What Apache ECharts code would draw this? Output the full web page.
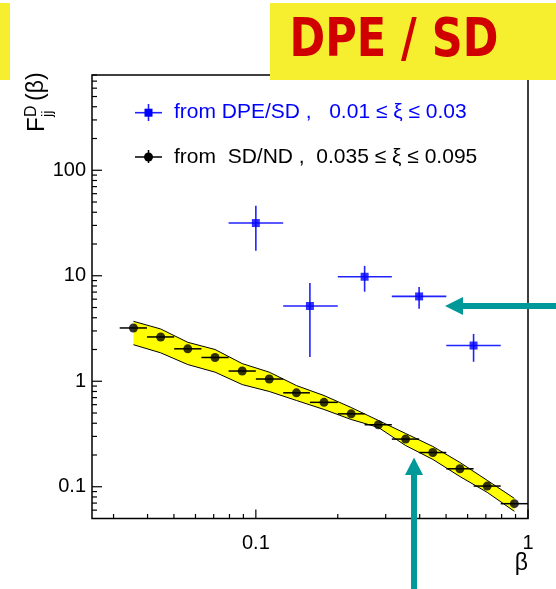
<!DOCTYPE html>
<html>
<head>
<meta charset="utf-8">
<script src="https://cdn.jsdelivr.net/npm/echarts@6/dist/echarts.min.js"></script>
<style>
  html, body { margin: 0; padding: 0; background: #fff; }
  #c { width: 556px; height: 589px; }
</style>
</head>
<body>
<div id="c"></div>
<script>
// SD/ND measurement: beta bin centres, bin edges and F values
const sdBeta   = [0.0355, 0.0447, 0.0562, 0.0708, 0.0891, 0.112, 0.141, 0.178, 0.224, 0.282, 0.355, 0.447, 0.562, 0.708, 0.891];
const sdBetaLo = [0.0316, 0.0398, 0.0501, 0.0631, 0.0794, 0.1, 0.126, 0.158, 0.2, 0.251, 0.316, 0.398, 0.501, 0.631, 0.794];
const sdBetaHi = [0.0398, 0.0501, 0.0631, 0.0794, 0.1, 0.126, 0.158, 0.2, 0.251, 0.316, 0.398, 0.501, 0.631, 0.794, 1.0];
const sdF      = [3.20, 2.63, 2.03, 1.68, 1.25, 1.05, 0.777, 0.631, 0.491, 0.387, 0.283, 0.211, 0.148, 0.1015, 0.0691];
// uncertainty band around the SD/ND points
const bandUp   = [3.70, 3.13, 2.34, 2.00, 1.47, 1.22, 0.91, 0.732, 0.564, 0.425, 0.320, 0.241, 0.170, 0.115, 0.0776];
const bandLo   = [2.22, 1.86, 1.44, 1.22, 0.93, 0.80, 0.657, 0.540, 0.434, 0.365, 0.246, 0.1816, 0.125, 0.0885, 0.0585];

// DPE/SD measurement
const dpeBeta   = [0.1, 0.158, 0.251, 0.398, 0.631];
const dpeBetaLo = [0.0794, 0.126, 0.2, 0.316, 0.501];
const dpeBetaHi = [0.126, 0.2, 0.316, 0.501, 0.794];
const dpeF      = [31.6, 5.17, 9.79, 6.37, 2.18];
const dpeFHi    = [46.0, 8.54, 12.4, 7.82, 2.81];
const dpeFLo    = [17.3, 1.70, 7.06, 4.88, 1.53];

// axis ticks and labels
const xMajorTicks = [0.1, 1];
const xTickLabels = ['0.1', '1'];
const xMinorTicks = [0.03, 0.04, 0.05, 0.06, 0.07, 0.08, 0.09, 0.2, 0.3, 0.4, 0.5, 0.6, 0.7, 0.8, 0.9];
const yMajorTicks = [0.1, 1, 10, 100];
const yTickLabels = ['0.1', '1', '10', '100'];
const yMinorTicks = [0.06, 0.07, 0.08, 0.09, 0.2, 0.3, 0.4, 0.5, 0.6, 0.7, 0.8, 0.9,
                     2, 3, 4, 5, 6, 7, 8, 9, 20, 30, 40, 50, 60, 70, 80, 90,
                     200, 300, 400, 500, 600, 700, 800];

const X_MIN = 0.025, X_MAX = 1, Y_MIN = 0.05, Y_MAX = 800;
const FONT = '"Liberation Sans", Arial, Helvetica, sans-serif';
const BLUE = '#0000ff';
const TEAL = '#009999';

const chart = echarts.init(document.getElementById('c'), null, { renderer: 'canvas' });

function xTicks(values, len) {
  return {
    type: 'custom', silent: true, clip: false, z: 6,
    data: values.map(v => [v, Y_MIN]),
    renderItem: (params, api) => {
      const p = api.coord([api.value(0), api.value(1)]);
      return { type: 'line', shape: { x1: p[0], y1: p[1], x2: p[0], y2: p[1] - len },
               style: { stroke: '#000', lineWidth: 1.2 } };
    }
  };
}
function yTicks(values, len) {
  return {
    type: 'custom', silent: true, clip: false, z: 6,
    data: values.map(v => [X_MIN, v]),
    renderItem: (params, api) => {
      const p = api.coord([api.value(0), api.value(1)]);
      return { type: 'line', shape: { x1: p[0], y1: p[1], x2: p[0] + len, y2: p[1] },
               style: { stroke: '#000', lineWidth: 1.2 } };
    }
  };
}

const series = [
  // yellow uncertainty band with black outline
  {
    type: 'custom', silent: true, clip: false, z: 2,
    data: [[sdBeta[0], sdF[0]]],
    renderItem: (params, api) => {
      const up = sdBeta.map((b, i) => api.coord([b, bandUp[i]]));
      const lo = sdBeta.map((b, i) => api.coord([b, bandLo[i]]));
      return {
        type: 'group',
        children: [
          { type: 'polygon', shape: { points: up.concat(lo.slice().reverse()) },
            style: { fill: '#ffff00', stroke: null } },
          { type: 'polyline', shape: { points: up }, style: { stroke: '#000', lineWidth: 1, fill: null } },
          { type: 'polyline', shape: { points: lo }, style: { stroke: '#000', lineWidth: 1, fill: null } }
        ]
      };
    }
  },
  // SD/ND horizontal error bars
  {
    type: 'custom', silent: true, clip: false, z: 3,
    data: sdBeta.map((b, i) => [b, sdF[i], sdBetaLo[i], sdBetaHi[i]]),
    renderItem: (params, api) => {
      const a = api.coord([api.value(2), api.value(1)]);
      const b = api.coord([api.value(3), api.value(1)]);
      return { type: 'line', shape: { x1: a[0], y1: a[1], x2: b[0], y2: b[1] },
               style: { stroke: '#000', lineWidth: 1.5 } };
    }
  },
  {
    type: 'scatter', silent: true, z: 4,
    symbol: 'circle', symbolSize: 9,
    itemStyle: { color: '#000' },
    data: sdBeta.map((b, i) => [b, sdF[i]])
  },
  // DPE/SD error crosses
  {
    type: 'custom', silent: true, clip: false, z: 3,
    data: dpeBeta.map((b, i) => [b, dpeF[i], dpeBetaLo[i], dpeBetaHi[i], dpeFLo[i], dpeFHi[i]]),
    renderItem: (params, api) => {
      const y = api.value(1), x = api.value(0);
      const a = api.coord([api.value(2), y]);
      const b = api.coord([api.value(3), y]);
      const c = api.coord([x, api.value(4)]);
      const d = api.coord([x, api.value(5)]);
      const st = { stroke: '#2222ff', lineWidth: 1.6 };
      return {
        type: 'group',
        children: [
          { type: 'line', shape: { x1: a[0], y1: a[1], x2: b[0], y2: b[1] }, style: st },
          { type: 'line', shape: { x1: c[0], y1: c[1], x2: d[0], y2: d[1] }, style: st }
        ]
      };
    }
  },
  {
    type: 'scatter', silent: true, z: 4,
    symbol: 'rect', symbolSize: 8,
    itemStyle: { color: BLUE },
    data: dpeBeta.map((b, i) => [b, dpeF[i]])
  },
  xTicks(xMajorTicks, 9),
  xTicks(xMinorTicks, 4.5),
  yTicks(yMajorTicks, 10),
  yTicks(yMinorTicks, 5),
  // tick labels
  {
    type: 'custom', silent: true, clip: false, z: 6,
    data: xMajorTicks.map(v => [v, Y_MIN]),
    renderItem: (params, api) => {
      const p = api.coord([api.value(0), api.value(1)]);
      return { type: 'text', x: p[0], y: p[1] + 25,
               style: { text: xTickLabels[params.dataIndex], font: '20px ' + FONT, fill: '#000',
                        align: 'center', verticalAlign: 'middle' } };
    }
  },
  {
    type: 'custom', silent: true, clip: false, z: 6,
    data: yMajorTicks.map(v => [X_MIN, v]),
    renderItem: (params, api) => {
      const p = api.coord([api.value(0), api.value(1)]);
      return { type: 'text', x: p[0] - 6, y: p[1],
               style: { text: yTickLabels[params.dataIndex], font: '20px ' + FONT, fill: '#000',
                        align: 'right', verticalAlign: 'middle' } };
    }
  }
];

const option = {
  animation: false,
  backgroundColor: '#fff',
  grid: { left: 92, top: 75, width: 436, height: 443.5, show: true,
          borderColor: '#000', borderWidth: 1.5, backgroundColor: 'transparent' },
  xAxis: { type: 'log', logBase: 10, min: X_MIN, max: X_MAX,
           axisLine: { show: false }, axisTick: { show: false }, axisLabel: { show: false },
           splitLine: { show: false } },
  yAxis: { type: 'log', logBase: 10, min: Y_MIN, max: Y_MAX,
           axisLine: { show: false }, axisTick: { show: false }, axisLabel: { show: false },
           splitLine: { show: false } },
  series: series,
  graphic: [
    // title panels
    { type: 'rect', z: 100, shape: { x: 0, y: 3, width: 10, height: 77 }, style: { fill: '#f5ef30' } },
    { type: 'rect', z: 100, shape: { x: 270, y: 3, width: 286, height: 77 }, style: { fill: '#f5ef30' } },
    { type: 'text', z: 101, x: 394, y: 42, scaleY: 1.22,
      style: { text: 'DPE / SD', font: 'bold 43px "DejaVu Sans", sans-serif', fill: '#d00000',
               align: 'center', verticalAlign: 'middle' } },
    // legend
    { type: 'group', z: 20, children: [
      { type: 'line', shape: { x1: 135, y1: 112.7, x2: 162, y2: 112.7 }, style: { stroke: '#2222ff', lineWidth: 1.6 } },
      { type: 'line', shape: { x1: 148.5, y1: 104, x2: 148.5, y2: 121 }, style: { stroke: '#2222ff', lineWidth: 1.6 } },
      { type: 'rect', shape: { x: 144.5, y: 108.7, width: 8, height: 8 }, style: { fill: BLUE } },
      { type: 'text', x: 174, y: 112.7,
        style: { text: 'from DPE/SD ,   0.01 \u2264 \u03be \u2264 0.03', font: '21px ' + FONT, fill: BLUE,
                 align: 'left', verticalAlign: 'middle' } },
      { type: 'line', shape: { x1: 135, y1: 157, x2: 162, y2: 157 }, style: { stroke: '#000', lineWidth: 1.5 } },
      { type: 'line', shape: { x1: 148.5, y1: 150, x2: 148.5, y2: 163 }, style: { stroke: '#000', lineWidth: 1.5 } },
      { type: 'circle', shape: { cx: 148.5, cy: 157, r: 4.5 }, style: { fill: '#000' } },
      { type: 'text', x: 174, y: 157,
        style: { text: 'from  SD/ND ,  0.035 \u2264 \u03be \u2264 0.095', font: '21px ' + FONT, fill: '#000',
                 align: 'left', verticalAlign: 'middle' } }
    ] },
    // axis titles
    { type: 'text', z: 20, x: 528, y: 564,
      style: { text: '\u03b2', font: '23px ' + FONT, fill: '#000', align: 'right', verticalAlign: 'middle' } },
    { type: 'group', z: 20, x: 37, y: 132, rotation: Math.PI / 2, children: [
      { type: 'text', x: 0, y: 0,
        style: { text: 'F', font: '24px ' + FONT, fill: '#000', align: 'left', verticalAlign: 'middle' } },
      { type: 'text', x: 15, y: -5,
        style: { text: 'D', font: '16px ' + FONT, fill: '#000', align: 'left', verticalAlign: 'middle' } },
      { type: 'text', x: 15, y: 11,
        style: { text: 'jj', font: '15px ' + FONT, fill: '#000', align: 'left', verticalAlign: 'middle' } },
      { type: 'text', x: 31, y: 0,
        style: { text: '(\u03b2)', font: '23px ' + FONT, fill: '#000', align: 'left', verticalAlign: 'middle' } }
    ] },
    // arrows pointing at the data
    { type: 'group', z: 30, children: [
      { type: 'rect', shape: { x: 462, y: 303, width: 94, height: 6 }, style: { fill: TEAL } },
      { type: 'polygon', shape: { points: [[445, 306], [463, 297], [463, 315]] }, style: { fill: TEAL } },
      { type: 'rect', shape: { x: 411, y: 474, width: 6, height: 115 }, style: { fill: TEAL } },
      { type: 'polygon', shape: { points: [[414, 457.5], [405, 475], [423, 475]] }, style: { fill: TEAL } }
    ] }
  ]
};

chart.setOption(option);
</script>
</body>
</html>
